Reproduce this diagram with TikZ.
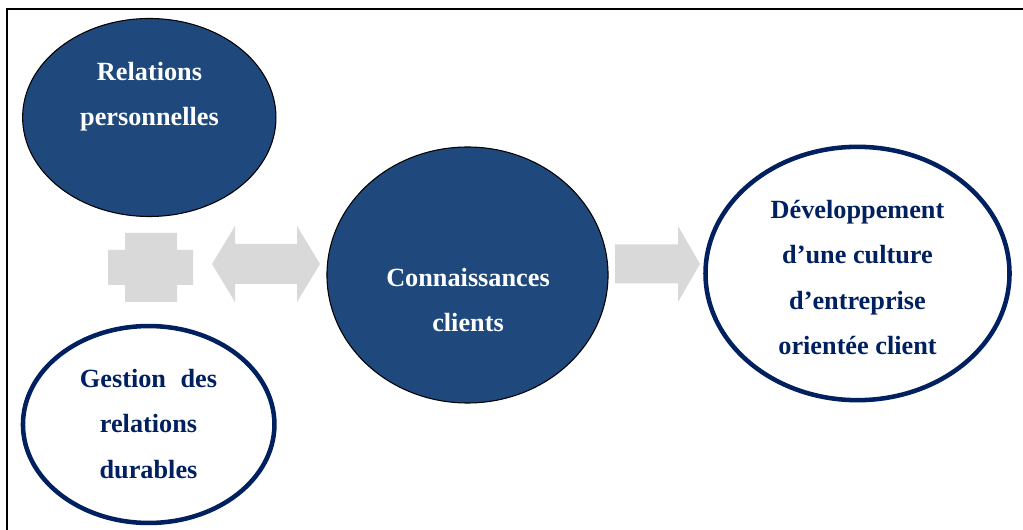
\documentclass[tikz,border=0pt]{standalone}
\usepackage{fontspec}
\setmainfont{Liberation Serif}
\usetikzlibrary{shapes.geometric}
\definecolor{bleufonce}{HTML}{1F497D}
\definecolor{marine}{HTML}{002060}
\definecolor{grisclair}{HTML}{D9D9D9}

\begin{document}
\begin{tikzpicture}[x=0.75pt, y=-0.75pt,
  pleine/.style={ellipse, draw=black, line width=0.8pt, fill=bleufonce, inner sep=0pt},
  creuse/.style={ellipse, draw=marine, line width=3.4pt, fill=white, inner sep=0pt},
  texte/.style={align=center, inner sep=0pt,
    font=\fontsize{19.7}{33.9}\selectfont\bfseries},
  blanc/.style={texte, text=white},
  bleu/.style={texte, text=marine},
  fleche/.style={fill=grisclair, draw=none}]
  \useasboundingbox (0,0) rectangle (1023,530);

  % cadre (haut et gauche seulement)
  \draw[line width=1.5pt] (7,530) -- (7,8.7) -- (1023,8.7);

  % les quatre ellipses
  \node[pleine, minimum width=190pt, minimum height=148.5pt] (rel) at (149.3,117.5) {};
  \node[creuse, minimum width=188.6pt, minimum height=147.7pt] (gest) at (148.7,424.5) {};
  \node[pleine, minimum width=210.8pt, minimum height=192pt] (conn) at (467.5,275) {};
  \node[creuse, minimum width=228pt, minimum height=190pt] (dev) at (857.5,273.5) {};

  % textes
  \node[blanc] (relT) at (149.5,97) {Relations\\personnelles};
  \node[bleu] (gestT) at (148.5,424) {Gestion\hspace{0.3em} des\\relations\\durables};
  \node[blanc] (connT) at (468,300) {Connaissances\\clients};
  \node[bleu] (devT) at (857.5,277.5) {Développement\\d’une culture\\d’entreprise\\orientée client};

  % signe plus
  \fill[fleche] (125,233) -- (177,233) -- (177,250) -- (193,250) -- (193,285)
    -- (177,285) -- (177,302) -- (125,302) -- (125,285) -- (108,285)
    -- (108,250) -- (125,250) -- cycle;

  % double fleche
  \coordinate (dg) at (212,264);
  \coordinate (dd) at (320,264);
  \fill[fleche] (dg) -- (235,226) -- (235,244) -- (297,244) -- (297,226) -- (dd)
    -- (297,302) -- (297,284) -- (235,284) -- (235,302) -- cycle;

  % fleche simple
  \coordinate (fp) at (700,264);
  \fill[fleche] (615,244.5) -- (678,244.5) -- (678,226) -- (fp) -- (678,302)
    -- (678,283.5) -- (615,283.5) -- cycle;

\end{tikzpicture}
\end{document}
